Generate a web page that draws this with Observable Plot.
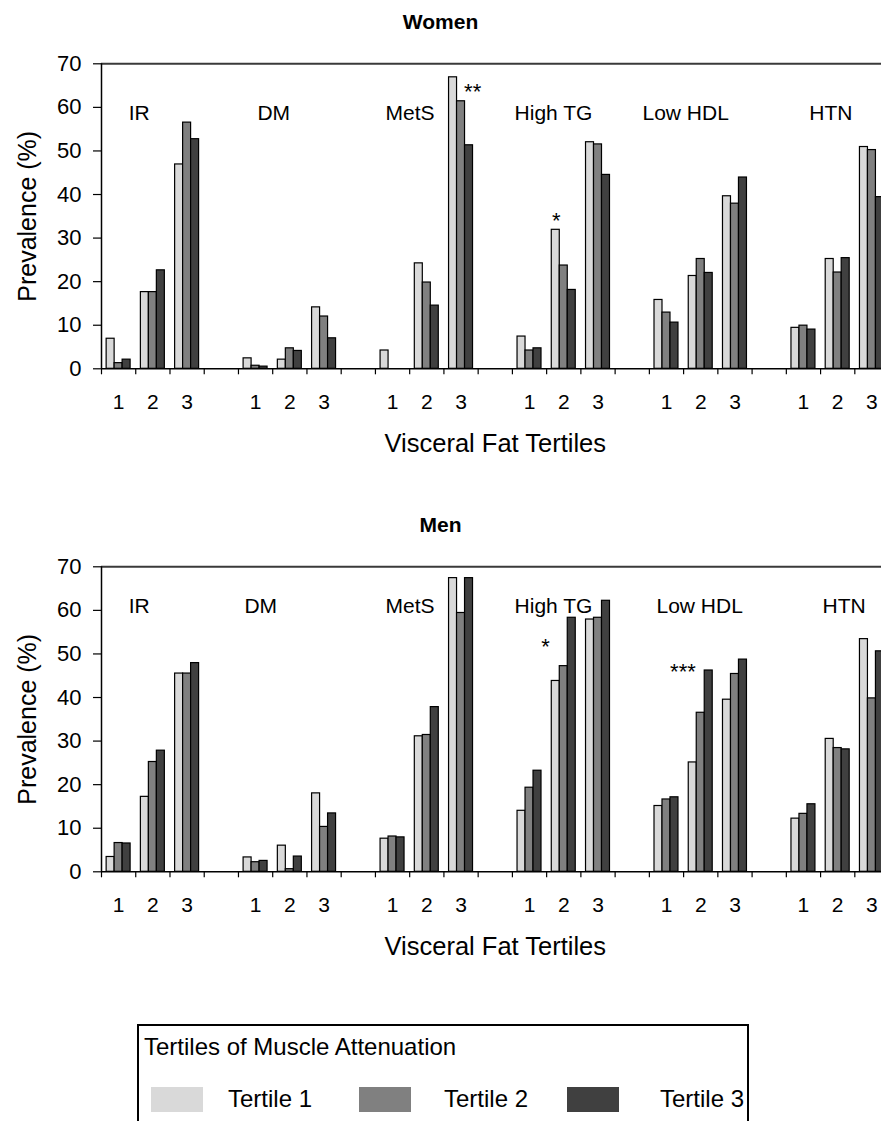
<!DOCTYPE html>
<html><head><meta charset="utf-8">
<script src="https://cdn.jsdelivr.net/npm/d3@7"></script>
<script src="https://cdn.jsdelivr.net/npm/@observablehq/plot@0.6"></script>
<style>
html,body{margin:0;padding:0;background:#fff;overflow:hidden;width:881px;height:1121px;}
body{position:relative;font-family:"Liberation Sans",Arial,sans-serif;color:#000;}
.title{position:absolute;left:0;width:881px;text-align:center;font-weight:bold;font-size:21px;line-height:24px;}
.chart{position:absolute;left:0;width:940px;}
.chart svg{max-width:none !important;}
#legendBox{position:absolute;left:137px;top:1024px;width:612px;height:130px;border:2px solid #000;box-sizing:border-box;}
.lg{position:absolute;font-size:24px;line-height:26px;white-space:nowrap;}
.sw{position:absolute;width:52px;height:25px;}
</style></head><body>
<div class="title" style="top:10px">Women</div>
<div id="women" class="chart" style="top:40px"></div>
<div class="title" style="top:513px">Men</div>
<div id="men" class="chart" style="top:543.4px"></div>
<div id="legendBox"></div>
<div id="legend"></div>
<script>
// ---- data ----
const categories = ["IR", "DM", "MetS", "High TG", "Low HDL", "HTN"];
const vatLabels = ["1", "2", "3"];            // visceral fat tertiles
const muscleTertiles = ["Tertile 1", "Tertile 2", "Tertile 3"];
const legendTitle = "Tertiles of Muscle Attenuation";
const yTicks = [0, 10, 20, 30, 40, 50, 60, 70];

// values ordered: IR 1,2,3 | DM 1,2,3 | MetS 1,2,3 | High TG 1,2,3 | Low HDL 1,2,3 | HTN 1,2,3
const womenT1 = [6.9, 17.6, 46.9, 2.4, 2.1, 14.1, 4.2, 24.2, 66.9, 7.4, 31.9, 52.0, 15.8, 21.3, 39.6, 9.4, 25.2, 50.9];
const womenT2 = [1.3, 17.6, 56.5, 0.7, 4.7, 12.0, 0.0, 19.8, 61.4, 4.2, 23.7, 51.5, 12.9, 25.2, 37.9, 9.9, 22.1, 50.2];
const womenT3 = [2.1, 22.6, 52.7, 0.5, 4.1, 7.0, 0.0, 14.5, 51.3, 4.7, 18.1, 44.5, 10.6, 22.0, 43.9, 9.0, 25.4, 39.4];

const menT1 = [3.4, 17.2, 45.5, 3.3, 6.0, 18.0, 7.6, 31.1, 67.4, 14.0, 43.8, 57.9, 15.1, 25.1, 39.5, 12.2, 30.5, 53.4];
const menT2 = [6.6, 25.2, 45.5, 2.2, 0.6, 10.3, 8.1, 31.4, 59.4, 19.3, 47.2, 58.3, 16.6, 36.5, 45.4, 13.3, 28.4, 39.8];
const menT3 = [6.5, 27.8, 47.9, 2.5, 3.5, 13.4, 7.9, 37.8, 67.4, 23.2, 58.3, 62.2, 17.1, 46.2, 48.7, 15.5, 28.1, 50.6];

// annotation anchors in data units (x: band units along the category axis, y: prevalence)
const womenLabelX = [1.10, 5.03, 9.01, 13.2, 17.06, 21.3];
const womenLabelY = 58.7;
const menLabelX = [1.10, 4.65, 9.01, 13.2, 17.47, 21.69];
const menLabelY = 61.0;
const womenStars = [{text: "**", x: 10.84, y: 63.6}, {text: "*", x: 13.28, y: 34.0}];
const menStars = [{text: "*", x: 12.97, y: 51.5}, {text: "***", x: 16.98, y: 45.8}];

// ---- style ----
const colors = ["#d9d9d9", "#808080", "#404040"];
const FONT = "'Liberation Sans', Arial, sans-serif";

function rows(series) {
  const out = [];
  categories.forEach((c, ci) => vatLabels.forEach((v, vi) => series.forEach((s, si) => {
    out.push({category: c, vat: v, tertile: muscleTertiles[si], band: ci * 4 + vi, slot: si, value: s[ci * 3 + vi]});
  })));
  return out;
}

function chart(series, labelX, labelY, stars) {
  const data = rows(series).filter(d => d.value > 0);
  const nBands = categories.length * 4;
  const bw = 0.7 / 3, pad = 0.15;
  const centers = [];
  categories.forEach((c, ci) => vatLabels.forEach((v, vi) => centers.push(ci * 4 + vi + 0.5)));
  const labels = categories.map((c, i) => ({text: c, x: labelX[i], y: labelY}));
  return Plot.plot({
    width: 940, height: 460,
    marginTop: 23.3, marginBottom: 131.7, marginLeft: 101, marginRight: 17.2,
    style: {fontFamily: FONT, background: "transparent", overflow: "visible"},
    x: {domain: [0, nBands], axis: null},
    y: {domain: [0, 70], axis: null},
    color: {domain: muscleTertiles, range: colors},
    marks: [
      Plot.axisY({ticks: yTicks, tickSize: 8, tickPadding: 12, fontSize: 22, label: null, strokeWidth: 1.2}),
      Plot.axisX({ticks: d3.range(0, nBands + 1), tickSize: 6, tickFormat: () => "", label: null, strokeWidth: 1.2}),
      Plot.axisX({ticks: centers, tickSize: 0, tickPadding: 25, fontSize: 21, label: null,
        tickFormat: t => vatLabels[Math.floor(t) % 4]}),
      Plot.rect(data, {
        x1: d => d.band + pad + d.slot * bw,
        x2: d => d.band + pad + (d.slot + 1) * bw,
        y1: () => 0, y2: "value",
        fill: "tertile", stroke: "#000", strokeWidth: 1.2
      }),
      Plot.ruleY([70], {stroke: "#3a3a3a", strokeWidth: 2}),
      Plot.ruleY([0], {stroke: "#000", strokeWidth: 1.5}),
      Plot.ruleX([0], {stroke: "#000", strokeWidth: 1.5}),
      Plot.text(labels, {x: "x", y: "y", text: "text", fontSize: 21, fill: "#000"}),
      Plot.text(stars, {x: "x", y: "y", text: "text", fontSize: 22, fill: "#000"}),
      Plot.text(["Prevalence (%)"], {frameAnchor: "left", textAnchor: "middle", rotate: -90, dx: -74, fontSize: 25, fill: "#000"}),
      Plot.text(["Visceral Fat Tertiles"], {x: () => 11.5, frameAnchor: "bottom", dy: 83, fontSize: 25.5, fill: "#000"})
    ]
  });
}

document.getElementById("women").append(chart([womenT1, womenT2, womenT3], womenLabelX, womenLabelY, womenStars));
document.getElementById("men").append(chart([menT1, menT2, menT3], menLabelX, menLabelY, menStars));

// legend
const lg = document.getElementById("legend");
const head = document.createElement("div");
head.className = "lg"; head.textContent = legendTitle;
head.style.left = "144px"; head.style.top = "1034px";
lg.append(head);
const swX = [151, 359, 567], txX = [228, 444, 660];
muscleTertiles.forEach((t, i) => {
  const s = document.createElement("div");
  s.className = "sw"; s.style.left = swX[i] + "px"; s.style.top = "1087px"; s.style.background = colors[i];
  const tx = document.createElement("div");
  tx.className = "lg"; tx.textContent = t; tx.style.left = txX[i] + "px"; tx.style.top = "1086px";
  lg.append(s, tx);
});
</script>
</body></html>
